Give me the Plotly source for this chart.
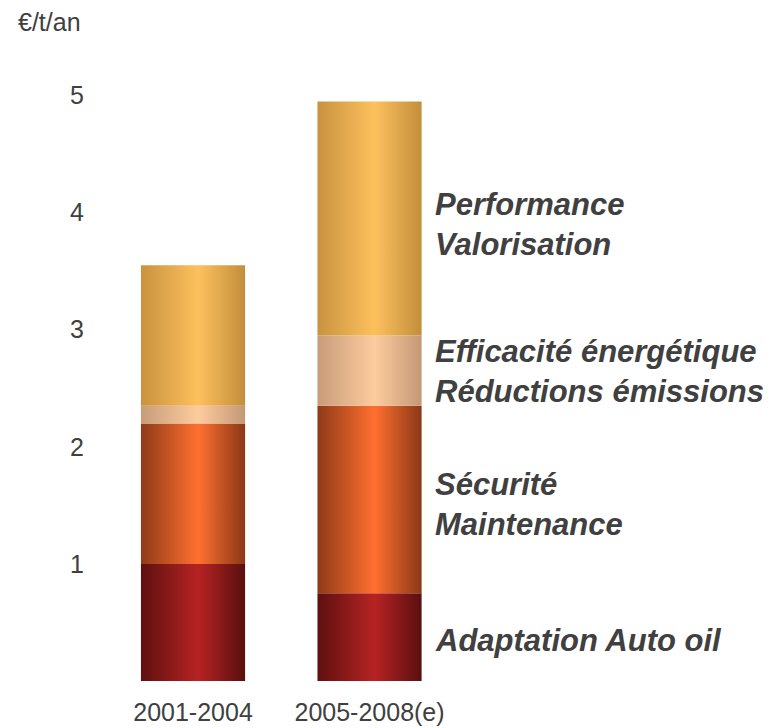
import plotly.graph_objects as go

# Cost per tonne per year, stacked by investment category
periods = ["2001-2004", "2005-2008(e)"]
categories = [
    "Adaptation Auto oil",
    "Sécurité Maintenance",
    "Efficacité énergétique Réductions émissions",
    "Performance Valorisation",
]
auto_oil = [1.0, 0.75]
securite = [1.2, 1.6]
efficacite = [0.15, 0.6]
performance = [1.2, 2.0]
series = [auto_oil, securite, efficacite, performance]

# Cylinder-like shading per segment: dark edge -> bright highlight -> dark edge
shades = [
    ("#5e1010", "#b62323", "#5a0f0f"),
    ("#8f3a18", "#ff7030", "#8a3817"),
    ("#c89c7a", "#fdcc9e", "#c49876"),
    ("#c8923f", "#fdc05d", "#c28e3b"),
]

label_lines = [
    ("Adaptation Auto oil", 0.35),
    ("Sécurité<br>Maintenance", 1.51),
    ("Efficacité énergétique<br>Réductions émissions", 2.64),
    ("Performance<br>Valorisation", 3.9),
]

bar_width = 0.59
ink = "#404040"
face = "Liberation Sans, Arial, sans-serif"

fig = go.Figure()
for i, period in enumerate(periods):
    base = 0.0
    for s, vals in enumerate(series):
        top = base + vals[i]
        left, right = i - bar_width / 2, i + bar_width / 2
        dark, light, dark2 = shades[s]
        fig.add_trace(go.Scatter(
            x=[left, right, right, left, left],
            y=[base, base, top, top, base],
            mode="lines",
            line=dict(width=0),
            fill="toself",
            fillgradient=dict(
                type="horizontal",
                colorscale=[[0, dark], [0.55, light], [1, dark2]],
            ),
            name=categories[s],
            hoverinfo="skip",
            showlegend=False,
        ))
        base = top

for text, y in label_lines:
    fig.add_annotation(
        x=1.36, y=y, xref="x", yref="y",
        text=f"<b><i>{text}</i></b>",
        showarrow=False, xanchor="left", yanchor="middle", align="left",
        font=dict(family=face, size=31, color=ink),
    )

# unit label above the value axis
fig.add_annotation(
    x=(16 - 90) / 685, y=1 + (37 - 22) / 644, xref="paper", yref="paper",
    text="€/t/an", showarrow=False, xanchor="left", yanchor="middle",
    font=dict(family=face, size=25, color=ink),
)

fig.update_layout(
    width=775, height=728,
    margin=dict(l=90, r=0, t=37, b=47),
    paper_bgcolor="white", plot_bgcolor="white",
    font=dict(family=face, size=25, color=ink),
    xaxis=dict(
        range=[-0.5836, 3.297],
        tickvals=[0, 1], ticktext=periods,
        showgrid=False, zeroline=False, showline=False,
        ticks="", ticklabelstandoff=14, automargin=False,
        tickfont=dict(size=25, color=ink),
    ),
    yaxis=dict(
        range=[0, 5.5],
        tickvals=[1, 2, 3, 4, 5],
        showgrid=False, zeroline=False, showline=False,
        ticks="", ticklabelstandoff=5, automargin=False,
        tickfont=dict(size=25, color=ink),
    ),
)

fig.write_html("out.html")
